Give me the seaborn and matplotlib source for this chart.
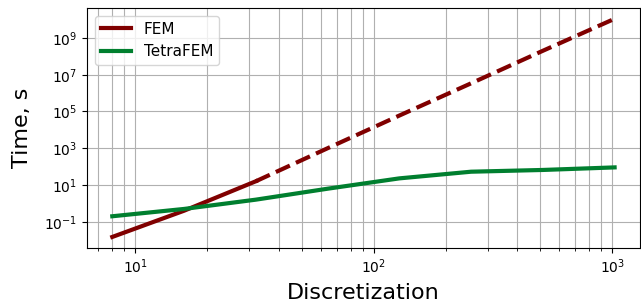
import numpy as np
import pandas as pd
import matplotlib
matplotlib.use("Agg")
import matplotlib.pyplot as plt
import seaborn as sns
from matplotlib.ticker import NullLocator

# discretization sizes
disc = [8, 16, 32, 64, 128, 256, 512, 1024]
# FEM times: measured up to 32, extrapolated beyond (dashed)
fem_time = [0.015, 0.4, 16, 1000, 6e4, 3.4e6, 2e8, 1.1e10]
fem_measured = 3  # first 3 points are measured
# TetraFEM times
tetra_time = [0.2, 0.5, 1.6, 6.3, 23, 53, 66, 91]

fem_color = '#800000'
tetra_color = '#007f2f'

df_fem = pd.DataFrame({'disc': disc, 'time': fem_time})
df_tetra = pd.DataFrame({'disc': disc, 'time': tetra_time})

fig, ax = plt.subplots(figsize=(6.41, 3.03), dpi=100)

sns.lineplot(data=df_fem.iloc[:fem_measured], x='disc', y='time', ax=ax,
             color=fem_color, lw=3, label='FEM')
sns.lineplot(data=df_fem.iloc[fem_measured - 1:], x='disc', y='time', ax=ax,
             color=fem_color, lw=3, linestyle='--')
sns.lineplot(data=df_tetra, x='disc', y='time', ax=ax,
             color=tetra_color, lw=3, label='TetraFEM')

ax.set_xscale('log')
ax.set_yscale('log')
ax.yaxis.set_minor_locator(NullLocator())
ax.grid(True, which='both', axis='x', color='#b0b0b0', lw=0.8)
ax.grid(True, which='major', axis='y', color='#b0b0b0', lw=0.8)
ax.set_axisbelow(True)

ax.set_xlabel('Discretization', fontsize=16, labelpad=5)
ax.set_ylabel('Time, s', fontsize=16, labelpad=9)
ax.tick_params(labelsize=10)
ax.legend(loc='upper left', fontsize=11)

plt.subplots_adjust(left=0.136, right=0.998, top=0.974, bottom=0.182)
plt.savefig('out.png', dpi=100)
